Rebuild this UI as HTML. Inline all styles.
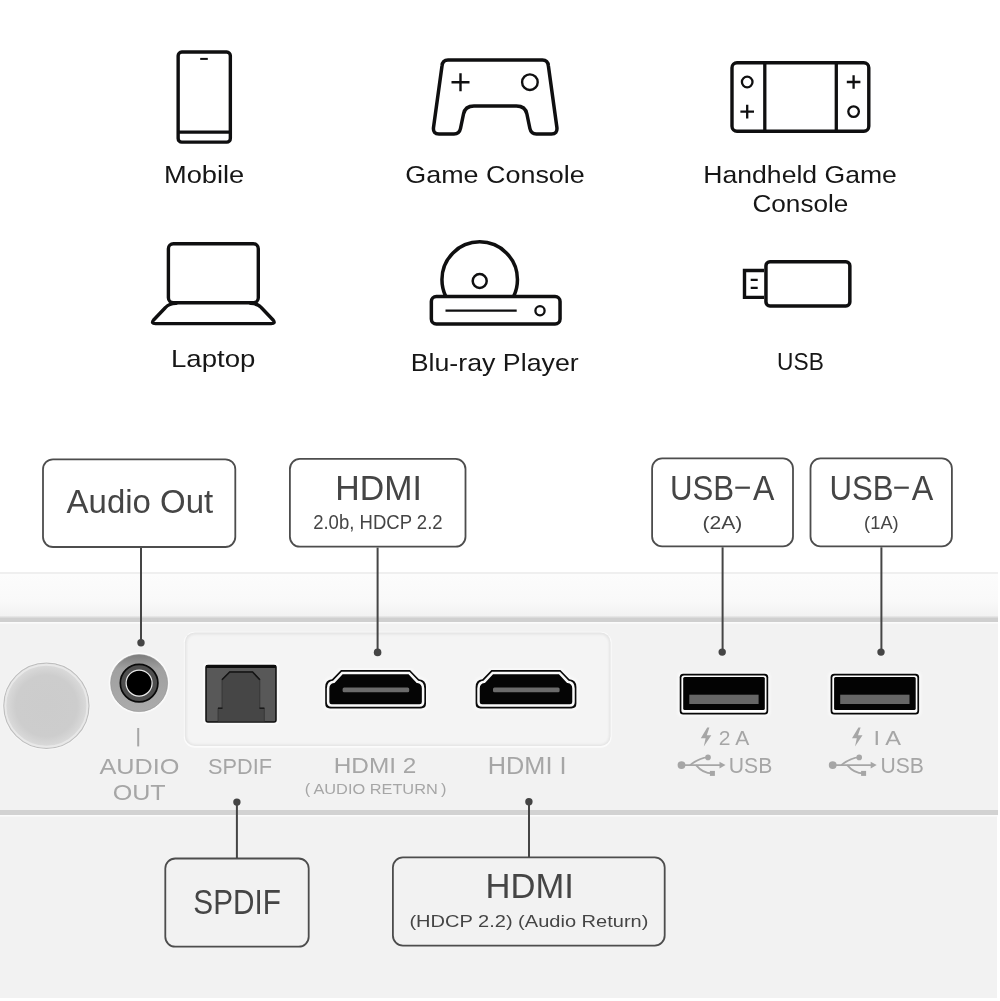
<!DOCTYPE html>
<html><head><meta charset="utf-8"><style>
html,body{margin:0;padding:0;background:#fff;}
svg{display:block;will-change:transform;}
text{font-family:"Liberation Sans",sans-serif;}
</style></head><body>
<svg width="1000" height="1001" viewBox="0 0 1000 1001">
<defs>
<linearGradient id="band" x1="0" y1="0" x2="0" y2="1"><stop offset="0" stop-color="#fcfcfc"/><stop offset="0.65" stop-color="#f9f9f9"/><stop offset="1" stop-color="#f1f1f1"/></linearGradient>
<radialGradient id="btn" cx="0.5" cy="0.5" r="0.5"><stop offset="0" stop-color="#cccccc"/><stop offset="0.72" stop-color="#cdcdcd"/><stop offset="0.9" stop-color="#d7d7d7"/><stop offset="1" stop-color="#dedede"/></radialGradient>
<linearGradient id="jack" x1="0" y1="0" x2="0" y2="1"><stop offset="0" stop-color="#7c7c7c"/><stop offset="0.25" stop-color="#a0a0a0"/><stop offset="1" stop-color="#ababab"/></linearGradient>
<filter id="soft" x="-5%" y="-5%" width="110%" height="110%"><feGaussianBlur stdDeviation="0.9"/></filter>
<clipPath id="discclip"><rect x="420" y="230" width="150" height="66"/></clipPath>
</defs>
<rect width="1000" height="1001" fill="#fff"/>
<!-- band -->
<rect x="0" y="572" width="998" height="2" fill="#efefef"/>
<rect x="0" y="574" width="998" height="43" fill="url(#band)"/>
<rect x="0" y="617" width="998" height="5" fill="#cfcfcf"/>
<rect x="0" y="616.5" width="998" height="1.5" fill="#dadada"/>
<rect x="0" y="622" width="998" height="1.5" fill="#fbfbfb"/>
<rect x="0" y="623.5" width="998" height="186.5" fill="#f2f2f2"/>
<rect x="0" y="810" width="998" height="5" fill="#d2d2d2"/>
<rect x="0" y="815" width="998" height="1.5" fill="#fbfbfb"/>
<rect x="0" y="816.5" width="997" height="181.5" fill="#f2f2f2"/>
<!-- inset panel -->
<rect x="183.8" y="631.8" width="427.8" height="116" rx="11" fill="#fbfbfb"/>
<rect x="184.8" y="632.4" width="425.8" height="113.6" rx="10" fill="#e4e4e4"/>
<rect x="186.6" y="634.6" width="422.4" height="110" rx="8.5" fill="#f4f4f4" filter="url(#soft)"/>

<!-- ===== ICONS ===== -->
<g fill="none" stroke="#0f0f10" stroke-linecap="round" stroke-linejoin="round">
 <!-- phone -->
 <rect x="178.15" y="52.05" width="52.2" height="90.1" rx="3.6" stroke-width="3.4"/>
 <line x1="179" y1="132.1" x2="229.5" y2="132.1" stroke-width="3.4" stroke-linecap="butt"/>
 <rect x="200.2" y="57.9" width="7.6" height="2" fill="#0f0f10" stroke="none"/>
 <!-- game console -->
 <path d="M448 60 L542.4 60 Q547.9 60 548.4 66 L556.9 127.5 Q557.6 134 551.4 134 L536.4 134 Q531.1 134 529.9 128.5 L526.9 114 Q525.4 106 516.4 106 L474 106 Q465 106 463.5 114 L460.5 128.5 Q459.3 134 454 134 L439 134 Q432.8 134 433.5 127.5 L442 66 Q442.5 60 448 60 Z" stroke-width="3.5"/>
 <circle cx="529.9" cy="82.2" r="7.8" stroke-width="2.4"/>
 <path d="M451.5 82.2 H469.5 M460.5 73.2 V91.2" stroke-width="2.4" stroke-linecap="butt"/>
 <!-- handheld -->
 <rect x="732" y="62.8" width="136.8" height="68.5" rx="5" stroke-width="3.4"/>
 <line x1="764.8" y1="63" x2="764.8" y2="131" stroke-width="3.3"/>
 <line x1="836.3" y1="63" x2="836.3" y2="131" stroke-width="3.3"/>
 <circle cx="747.2" cy="82" r="5.3" stroke-width="2.3"/>
 <circle cx="853.6" cy="111.6" r="5.3" stroke-width="2.3"/>
 <path d="M740.4 111.6 H754 M747.2 104.8 V118.4" stroke-width="2.3" stroke-linecap="butt"/>
 <path d="M846.8 82 H860.4 M853.6 75.2 V88.8" stroke-width="2.3" stroke-linecap="butt"/>
 <!-- laptop -->
 <rect x="168.4" y="243.7" width="89.9" height="59" rx="5" stroke-width="3.4"/>
 <path d="M176 303.4 Q169 303.4 165.5 307.5 L153.6 320 Q150.8 323.6 155.5 323.6 H271.2 Q275.9 323.6 273.1 320 L261.2 307.5 Q257.7 303.4 250.7 303.4" stroke-width="3.4"/>
 <!-- blu-ray -->
 <g clip-path="url(#discclip)"><circle cx="479.7" cy="279.6" r="37.75" stroke-width="3.5"/></g>
 <circle cx="479.7" cy="281" r="7" stroke-width="2.5"/>
 <rect x="431.35" y="296.45" width="128.7" height="27.6" rx="5" stroke-width="3.5"/>
 <line x1="445.5" y1="310.7" x2="516.7" y2="310.7" stroke-width="2.3" stroke-linecap="butt"/>
 <circle cx="540" cy="310.7" r="4.6" stroke-width="2.3"/>
 <!-- usb stick -->
 <rect x="765.95" y="261.75" width="83.9" height="44.3" rx="4" stroke-width="3.5"/>
 <path d="M764 270.5 H744.5 V297.4 H764" stroke-width="3.4" stroke-linejoin="miter" stroke-linecap="butt"/>
 <path d="M750.7 279.8 H757.7 M750.7 287.8 H757.7" stroke-width="2.3" stroke-linecap="butt"/>
</g>

<!-- ===== LABEL BOXES ===== -->
<g fill="none" stroke="#4d4d4d" stroke-width="1.8">
 <rect x="43" y="459.3" width="192.3" height="87.7" rx="10"/>
 <rect x="289.9" y="458.9" width="175.6" height="87.8" rx="10"/>
 <rect x="652.1" y="458.4" width="140.9" height="88" rx="10"/>
 <rect x="810.5" y="458.4" width="141.4" height="88" rx="10"/>
 <rect x="165.3" y="858.5" width="143.4" height="88.2" rx="10"/>
 <rect x="392.9" y="857.4" width="271.8" height="88.2" rx="10"/>
</g>
<!-- connector lines -->
<g stroke="#454545" stroke-width="2">
 <line x1="141" y1="548" x2="141" y2="642.7"/>
 <line x1="377.6" y1="547.6" x2="377.6" y2="652"/>
 <line x1="722.6" y1="547.3" x2="722.6" y2="652"/>
 <line x1="881.4" y1="547.3" x2="881.4" y2="652"/>
 <line x1="236.9" y1="802" x2="236.9" y2="858"/>
 <line x1="529" y1="801.7" x2="529" y2="857"/>
</g>
<g fill="#454545">
 <circle cx="141" cy="642.7" r="3.7"/>
 <circle cx="377.6" cy="652.4" r="3.8"/>
 <circle cx="722.2" cy="652.1" r="3.7"/>
 <circle cx="881" cy="652.1" r="3.7"/>
 <circle cx="236.9" cy="802.1" r="3.7"/>
 <circle cx="528.9" cy="801.8" r="3.7"/>
</g>

<!-- ===== PORTS ===== -->
<!-- button -->
<circle cx="46.4" cy="705.75" r="44" fill="#f8f8f8"/>
<circle cx="46.4" cy="705.75" r="42.6" fill="url(#btn)" stroke="#bfbfbf" stroke-width="1.2"/>
<circle cx="46.4" cy="705.75" r="41" fill="none" stroke="#e8e8e8" stroke-width="1.8"/>
<!-- audio jack -->
<circle cx="139.1" cy="683.1" r="30.5" fill="#fafafa"/>
<circle cx="139.1" cy="683.1" r="28.5" fill="url(#jack)" stroke="#8e8e8e" stroke-width="0.6"/>
<circle cx="139.1" cy="683.1" r="18.8" fill="#4e4e4e" stroke="#0a0a0a" stroke-width="1.7"/>
<circle cx="139.1" cy="683.1" r="13" fill="#000" stroke="#eaeaea" stroke-width="1.2"/>
<rect x="137.2" y="728" width="2" height="18.4" fill="#a6a6a6"/>
<!-- spdif -->
<rect x="203" y="662.5" width="76" height="62" rx="4" fill="#fafafa"/>
<rect x="206" y="665.6" width="70" height="56.4" rx="2" fill="#585858" stroke="#0d0d0d" stroke-width="1.5"/>
<rect x="206" y="665" width="70" height="3" fill="#0d0d0d"/>
<path d="M218 721.5 V708.1 H222 V679.3 L229.7 671.7 H252.6 L259.8 679.3 V708.1 H264.3 V721.5 Z" fill="#464646" stroke="#2e2e2e" stroke-width="0.7"/>
<path d="M222 679.8 L229.7 672 H252.6 L259.8 679.8" fill="none" stroke="#141414" stroke-width="1.6"/>
<path d="M218 708.3 H222.5 M259.5 708.3 H264.3" fill="none" stroke="#1a1a1a" stroke-width="1.4"/>
<!-- hdmi ports -->
<g id="hdmi">
 <path d="M341 670 H410 L419 679.3 Q426 680 426 687 V703.5 Q426 708.4 421 708.4 H330 Q325.2 708.4 325.2 703.5 V687 Q325.2 680 332 679.3 Z" fill="none" stroke="#f9f9f9" stroke-width="5" filter="url(#soft)"/>
 <path d="M341 670 H410 L419 679.3 Q426 680 426 687 V703.5 Q426 708.4 421 708.4 H330 Q325.2 708.4 325.2 703.5 V687 Q325.2 680 332 679.3 Z" fill="#0a0a0a"/>
 <path d="M342.2 672.9 H409 L417.3 681.7 Q423.1 682.3 423.1 688.5 V702 Q423.1 705.5 419.6 705.5 H331.6 Q328.1 705.5 328.1 702 V688.5 Q328.1 682.3 333.9 681.7 Z" fill="#050505" stroke="#fafafa" stroke-width="2.5"/>
 <rect x="342.6" y="687.4" width="66.6" height="4.8" rx="1.5" fill="#6b6b6b"/>
</g>
<use href="#hdmi" x="150.4"/>
<!-- usb ports -->
<g id="usbp">
 <rect x="677.4" y="671.5" width="93.1" height="45.2" rx="5" fill="#f9f9f9" filter="url(#soft)"/>
 <rect x="679.7" y="673.75" width="88.5" height="40.75" rx="3.5" fill="#080808"/>
 <rect x="681.4" y="675.4" width="85.1" height="37.4" rx="2.6" fill="#fff"/>
 <rect x="683.2" y="677" width="81.6" height="33" rx="1.5" fill="#030303"/>
 <rect x="689.3" y="694.7" width="69.3" height="9.3" fill="#666"/>
</g>
<use href="#usbp" x="150.9"/>
<!-- usb labels icons -->
<g id="usbicons" fill="#a6a6a6">
 <path d="M707.2 727.4 L709.4 727.4 L706.8 735.3 L711.3 735.3 L703.8 746.4 L705.6 738.3 L700.8 738.3 Z"/>
 <circle cx="681.5" cy="765.1" r="3.9"/>
 <path d="M681.5 765.1 H721" stroke="#a6a6a6" stroke-width="1.8" fill="none"/>
 <path d="M725.5 765.1 L719.5 761.8 L719.5 768.4 Z"/>
 <path d="M690 765.1 Q700 757.4 708 757.4" stroke="#a6a6a6" stroke-width="1.8" fill="none"/>
 <circle cx="708" cy="757.4" r="2.8"/>
 <path d="M696 765.1 Q703 773.4 712 773.4" stroke="#a6a6a6" stroke-width="1.8" fill="none"/>
 <rect x="709.9" y="770.9" width="5" height="5"/>
</g>
<use href="#usbicons" x="151.2"/>

<text x="204.07" y="182.75" font-size="24.20" fill="#161616" text-anchor="middle" textLength="80.21" lengthAdjust="spacingAndGlyphs">Mobile</text>
<text x="495.03" y="182.70" font-size="24.20" fill="#161616" text-anchor="middle" textLength="179.54" lengthAdjust="spacingAndGlyphs">Game Console</text>
<text x="800.11" y="182.50" font-size="24.20" fill="#161616" text-anchor="middle" textLength="193.58" lengthAdjust="spacingAndGlyphs">Handheld Game</text>
<text x="800.43" y="211.80" font-size="24.20" fill="#161616" text-anchor="middle" textLength="95.96" lengthAdjust="spacingAndGlyphs">Console</text>
<text x="213.23" y="367.20" font-size="24.20" fill="#161616" text-anchor="middle" textLength="84.39" lengthAdjust="spacingAndGlyphs">Laptop</text>
<text x="494.70" y="370.60" font-size="24.20" fill="#161616" text-anchor="middle" textLength="167.98" lengthAdjust="spacingAndGlyphs">Blu-ray Player</text>
<text x="800.44" y="370.40" font-size="24.20" fill="#161616" text-anchor="middle" textLength="46.68" lengthAdjust="spacingAndGlyphs">USB</text>
<text x="139.88" y="512.80" font-size="32.30" fill="#454545" text-anchor="middle" textLength="146.57" lengthAdjust="spacingAndGlyphs">Audio Out</text>
<text x="378.59" y="500.20" font-size="35.60" fill="#454545" text-anchor="middle" textLength="86.46" lengthAdjust="spacingAndGlyphs">HDMI</text>
<text x="377.87" y="528.70" font-size="19.60" fill="#454545" text-anchor="middle" textLength="129.45" lengthAdjust="spacingAndGlyphs">2.0b, HDCP 2.2</text>
<text x="702.03" y="499.90" font-size="35.00" fill="#454545" text-anchor="middle" textLength="64.20" lengthAdjust="spacingAndGlyphs">USB</text>
<text x="763.73" y="499.90" font-size="35.00" fill="#454545" text-anchor="middle" textLength="21.38" lengthAdjust="spacingAndGlyphs">A</text>
<text x="722.48" y="528.70" font-size="18.80" fill="#454545" text-anchor="middle" textLength="39.84" lengthAdjust="spacingAndGlyphs">(2A)</text>
<text x="861.41" y="499.90" font-size="35.00" fill="#454545" text-anchor="middle" textLength="64.03" lengthAdjust="spacingAndGlyphs">USB</text>
<text x="922.57" y="499.90" font-size="35.00" fill="#454545" text-anchor="middle" textLength="21.53" lengthAdjust="spacingAndGlyphs">A</text>
<text x="881.40" y="528.70" font-size="18.80" fill="#454545" text-anchor="middle" textLength="34.60" lengthAdjust="spacingAndGlyphs">(1A)</text>
<text x="237.08" y="913.70" font-size="35.70" fill="#454545" text-anchor="middle" textLength="87.54" lengthAdjust="spacingAndGlyphs">SPDIF</text>
<text x="529.64" y="897.60" font-size="34.80" fill="#454545" text-anchor="middle" textLength="88.28" lengthAdjust="spacingAndGlyphs">HDMI</text>
<text x="528.92" y="927.00" font-size="17.20" fill="#454545" text-anchor="middle" textLength="239.00" lengthAdjust="spacingAndGlyphs">(HDCP 2.2) (Audio Return)</text>
<text x="139.41" y="773.60" font-size="22.70" fill="#a6a6a6" text-anchor="middle" textLength="80.01" lengthAdjust="spacingAndGlyphs">AUDIO</text>
<text x="139.17" y="800.40" font-size="22.70" fill="#a6a6a6" text-anchor="middle" textLength="52.92" lengthAdjust="spacingAndGlyphs">OUT</text>
<text x="239.99" y="773.60" font-size="22.70" fill="#a6a6a6" text-anchor="middle" textLength="63.92" lengthAdjust="spacingAndGlyphs">SPDIF</text>
<text x="375.01" y="773.20" font-size="22.20" fill="#a6a6a6" text-anchor="middle" textLength="82.65" lengthAdjust="spacingAndGlyphs">HDMI 2</text>
<text x="375.59" y="793.50" font-size="14.00" fill="#a6a6a6" text-anchor="middle" textLength="141.83" lengthAdjust="spacingAndGlyphs">( AUDIO RETURN )</text>
<text x="527.19" y="773.50" font-size="23.00" fill="#a6a6a6" text-anchor="middle" textLength="78.68" lengthAdjust="spacingAndGlyphs">HDMI I</text>
<text x="734.08" y="745.00" font-size="21.00" fill="#a6a6a6" text-anchor="middle" textLength="30.50" lengthAdjust="spacingAndGlyphs">2 A</text>
<text x="750.60" y="773.40" font-size="22.00" fill="#a6a6a6" text-anchor="middle" textLength="43.52" lengthAdjust="spacingAndGlyphs">USB</text>
<text x="887.34" y="745.00" font-size="21.00" fill="#a6a6a6" text-anchor="middle" textLength="27.58" lengthAdjust="spacingAndGlyphs">I A</text>
<text x="902.25" y="773.40" font-size="22.00" fill="#a6a6a6" text-anchor="middle" textLength="43.44" lengthAdjust="spacingAndGlyphs">USB</text>
<g fill="#454545">
 <rect x="735.3" y="486.6" width="14.6" height="2.2"/>
 <rect x="894.2" y="486.6" width="14.6" height="2.2"/>
</g>

</svg>
</body></html>
